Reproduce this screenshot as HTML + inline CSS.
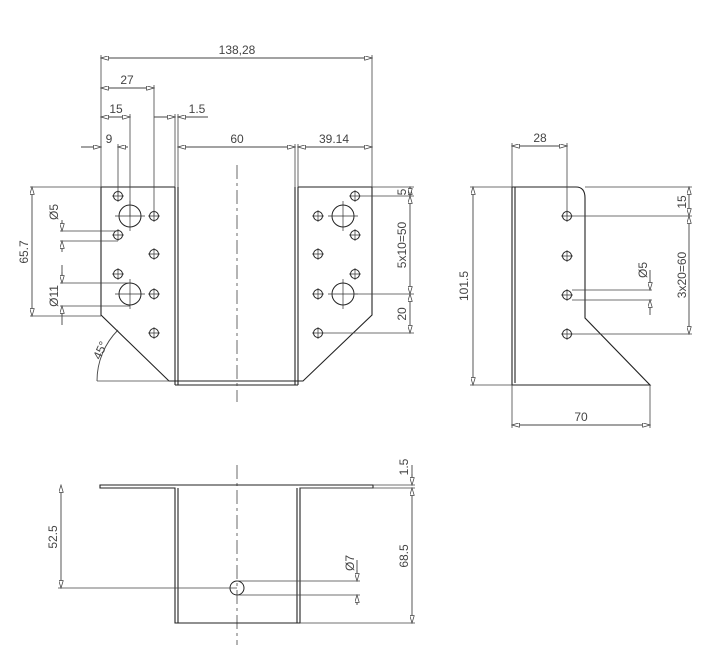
<!DOCTYPE html>
<html><head><meta charset="utf-8"><style>
html,body{margin:0;padding:0;background:#fff;}
svg{display:block;}
text{font-family:"Liberation Sans",sans-serif;font-size:12px;fill:#444;}
</style></head><body>
<svg width="723" height="664" viewBox="0 0 723 664" xmlns="http://www.w3.org/2000/svg">
<defs>
<marker id="a" viewBox="0 0 10 6" refX="10" refY="3" markerWidth="11" markerHeight="5" orient="auto-start-reverse"><path d="M0,0 L10,3 L0,6 z" fill="#fff" stroke="#444" stroke-width="1"/></marker>
</defs>
<g fill="none" stroke="#222" stroke-width="1.1">
<path d="M101,187 H175 M101,187 V315 L169,381 H175 V187 M178,187 V385 M175,385 H298 M175,381 V385 M298,187 V385 M295,187 V385 M298,187 H372 V315 L303,381 H298"/>
<path d="M175,381 H298"/>
</g>
<g fill="none" stroke="#222" stroke-width="1">
<circle cx="118" cy="196" r="4.5"/><circle cx="130" cy="216" r="11"/><circle cx="154" cy="216" r="4.5"/>
<circle cx="118" cy="235" r="4.5"/><circle cx="154" cy="254" r="4.5"/><circle cx="118" cy="274" r="4.5"/>
<circle cx="130" cy="294" r="11"/><circle cx="154" cy="294" r="4.5"/><circle cx="154" cy="333" r="4.5"/>
<circle cx="355" cy="196" r="4.5"/><circle cx="343" cy="216" r="11"/><circle cx="318" cy="216" r="4.5"/>
<circle cx="355" cy="235" r="4.5"/><circle cx="318" cy="254" r="4.5"/><circle cx="355" cy="274" r="4.5"/>
<circle cx="343" cy="294" r="11"/><circle cx="318" cy="294" r="4.5"/><circle cx="318" cy="333" r="4.5"/>
<circle cx="567" cy="216" r="4.5"/><circle cx="567" cy="256" r="4.5"/><circle cx="567" cy="295" r="4.5"/><circle cx="567" cy="334" r="4.5"/>
<circle cx="237" cy="588" r="7"/>
</g>
<g stroke="#333" stroke-width="0.7">
<path d="M112,196h12M118,190v12M115,216h30M130,201v30M148,216h12M154,210v12M112,235h12M118,229v12M148,254h12M154,248v12M112,274h12M118,268v12M115,294h30M130,279v30M148,294h12M154,288v12M148,333h12M154,327v12"/>
<path d="M349,196h12M355,190v12M328,216h30M343,201v30M312,216h12M318,210v12M349,235h12M355,229v12M312,254h12M318,248v12M349,274h12M355,268v12M328,294h30M343,279v30M312,294h12M318,288v12M312,333h12M318,327v12"/>
<path d="M561,216h12M567,210v12M561,256h12M567,250v12M561,295h12M567,289v12M561,334h12M567,328v12"/>
</g>
<g stroke="#444" stroke-width="0.8" stroke-dasharray="14,4,3,4" fill="none">
<path d="M237,165 V402"/><path d="M237,465 V645"/>
</g>
<g fill="none" stroke="#222" stroke-width="1.1">
<path d="M512,187 V385 H650 L585,318 V198 Q585,187 576,187 H512 M515,187 V383"/>
</g>
<g fill="none" stroke="#222" stroke-width="1.1">
<path d="M100,485 H373 V488 H300 V623 H175 V488 H100 Z M178,488 V623 M297,488 V623"/>
</g>
<g stroke="#444" stroke-width="0.8" fill="none">
<path d="M101,55V187M372,55V187M154,85V216M130,114V216M118,144V196M175,114V187M178,114V187M298,144V187M295,144V187"/>
<path d="M30,187H101M30,316H101M60,231H118M60,241H118M60,283H130M60,306H130"/>
<path d="M372,187H414M360,196H414M354,294H414M323,333H414"/>
<path d="M97,381H169"/>
<path d="M512,143V187M567,143V216M470,187H512M470,385H512M512,385V428M650,385V428M585,187H692M572,216H692M572,334H692M572,290H652M572,300H652"/>
<path d="M373,485H415M300,488H415M300,623H415M58,588H237M237,581H360M237,595H360"/>
</g>
<g stroke="#444" stroke-width="0.9" fill="none" marker-start="url(#a)" marker-end="url(#a)">
<path d="M101,58H372"/><path d="M101,88H154"/><path d="M101,117H130"/><path d="M178,147H295"/><path d="M298,147H372"/>
<path d="M32,187V316"/><path d="M410,187V196"/><path d="M410,196V294"/><path d="M410,294V333"/>
<path d="M512,146H567"/><path d="M473,187V385"/><path d="M512,425H650"/><path d="M689,187V216"/><path d="M689,216V334"/>
<path d="M61,485V588"/><path d="M412,488V623"/>
</g>
<g stroke="#444" stroke-width="0.9" fill="none">
<path d="M81,147H101M118,147H128" /><path d="M154,117H175M178,117H208"/>
<path d="M62,220V231M62,241V252M62,265V283M62,306V325"/>
<path d="M650,270V290M650,300V315"/>
<path d="M357,560V581M357,595V605"/><path d="M412,465V485"/>
<path d="M97,381 A72,72 0 0 1 118,330"/>
</g>
<g stroke="#444" stroke-width="0.9" fill="none" marker-end="url(#a)">
<path d="M85,147H101"/><path d="M128,147H118"/><path d="M160,117H175"/><path d="M195,117H178"/>
<path d="M62,222V231"/><path d="M62,250V241"/><path d="M62,272V283"/><path d="M62,316V306"/>
<path d="M650,280V290"/><path d="M650,310V300"/><path d="M357,570V581"/><path d="M357,604V595"/><path d="M412,474V485"/>
</g>
<text x="237" y="54" text-anchor="middle">138,28</text>
<text x="127" y="84" text-anchor="middle">27</text>
<text x="116" y="113" text-anchor="middle">15</text>
<text x="197" y="113" text-anchor="middle">1.5</text>
<text x="109" y="143" text-anchor="middle">9</text>
<text x="237" y="143" text-anchor="middle">60</text>
<text x="334" y="143" text-anchor="middle">39.14</text>
<text x="540" y="142" text-anchor="middle">28</text>
<text x="581" y="421" text-anchor="middle">70</text>
<text transform="translate(28,252) rotate(-90)" text-anchor="middle">65.7</text>
<text transform="translate(58,212) rotate(-90)" text-anchor="middle">Ø5</text>
<text transform="translate(58,296) rotate(-90)" text-anchor="middle">Ø11</text>
<text transform="translate(406,192) rotate(-90)" text-anchor="middle">5</text>
<text transform="translate(406,245) rotate(-90)" text-anchor="middle">5x10=50</text>
<text transform="translate(406,314) rotate(-90)" text-anchor="middle">20</text>
<text transform="translate(104,352) rotate(-65)" text-anchor="middle">45°</text>
<text transform="translate(468,286) rotate(-90)" text-anchor="middle">101.5</text>
<text transform="translate(686,202) rotate(-90)" text-anchor="middle">15</text>
<text transform="translate(686,275) rotate(-90)" text-anchor="middle">3x20=60</text>
<text transform="translate(647,270) rotate(-90)" text-anchor="middle">Ø5</text>
<text transform="translate(57,537) rotate(-90)" text-anchor="middle">52.5</text>
<text transform="translate(408,467) rotate(-90)" text-anchor="middle">1.5</text>
<text transform="translate(408,556) rotate(-90)" text-anchor="middle">68.5</text>
<text transform="translate(354,563) rotate(-90)" text-anchor="middle">Ø7</text>
</svg>
</body></html>
